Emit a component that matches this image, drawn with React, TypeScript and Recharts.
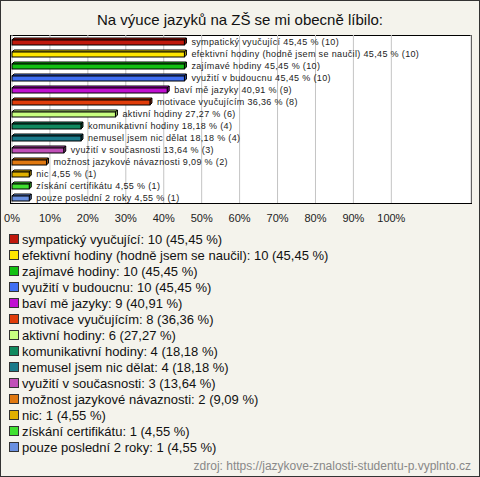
import { Bar, BarChart, CartesianGrid, Cell, LabelList, XAxis, YAxis } from "recharts";

const categories = [
  "sympatický vyučující",
  "efektivní hodiny (hodně jsem se naučil)",
  "zajímavé hodiny",
  "využití v budoucnu",
  "baví mě jazyky",
  "motivace vyučujícím",
  "aktivní hodiny",
  "komunikativní hodiny",
  "nemusel jsem nic dělat",
  "využití v současnosti",
  "možnost jazykové návaznosti",
  "nic",
  "získání certifikátu",
  "pouze poslední 2 roky",
];
const counts = [10, 10, 10, 10, 9, 8, 6, 4, 4, 3, 2, 1, 1, 1];
const percents = [45.45, 45.45, 45.45, 45.45, 40.91, 36.36, 27.27, 18.18, 18.18, 13.64, 9.09, 4.55, 4.55, 4.55];
const colors = [
  "#c0180c", "#ffe600", "#12c012", "#3f6ef2", "#c010d2", "#e03c0a", "#c8ff80",
  "#10895e", "#1a7a8a", "#c050b8", "#e07810", "#e0b000", "#40e030", "#6a90e0",
];
const xTicks = [0, 10, 20, 30, 40, 50, 60, 70, 80, 90, 100];

const fmt = (v: number) => v.toFixed(2).replace(".", ",");

const data = categories.map((name, i) => ({
  name,
  value: percents[i],
  label: `${name} ${fmt(percents[i])} % (${counts[i]})`,
}));

const FONT = "'Liberation Sans', Arial, sans-serif";

// darken a hex colour a bit for the bar's side face
function shade(hex: string) {
  const n = parseInt(hex.slice(1), 16);
  const r = Math.round(((n >> 16) & 255) * 0.7);
  const g = Math.round(((n >> 8) & 255) * 0.7);
  const b = Math.round((n & 255) * 0.7);
  return `rgb(${r},${g},${b})`;
}

const Bar3D = (props: any) => {
  const { x, y, width, height, fill } = props;
  const d = 2;
  const top = y + d;
  const h = height - d;
  return (
    <g stroke="#000" strokeWidth={1}>
      <polygon points={`${x},${top} ${x + d},${y} ${x + width + d},${y} ${x + width},${top}`} fill={fill} />
      <polygon
        points={`${x + width},${top} ${x + width + d},${y} ${x + width + d},${y + h} ${x + width},${y + height}`}
        fill={shade(fill)}
      />
      <rect x={x} y={top} width={width} height={h} fill={fill} />
    </g>
  );
};

const BarLabel = (props: any) => {
  const { x, y, width, height, value } = props;
  return (
    <text
      x={x + width + 7}
      y={y + height / 2}
      dominantBaseline="central"
      fontSize={9}
      letterSpacing={0.35}
      fill="#222"
      fontFamily={FONT}
    >
      {value}
    </text>
  );
};

export default function App() {
  return (
    <div
      style={{
        position: "fixed",
        left: 0,
        top: 0,
        width: 480,
        height: 477,
        boxSizing: "border-box",
        border: "1px solid #333",
        background: "#f4f3ec",
        fontFamily: FONT,
        overflow: "hidden",
      }}
    >
      <div style={{ position: "absolute", left: 0, top: 10, width: 478, textAlign: "center", fontSize: 15, color: "#111" }}>
        Na výuce jazyků na ZŠ se mi obecně líbilo:
      </div>
      {/* white plot box */}
      <div
        style={{
          position: "absolute",
          left: 9,
          top: 34,
          width: 462,
          height: 169,
          background: "#fff",
          border: "1px solid #000",
          boxSizing: "border-box",
        }}
      />
      <div style={{ position: "absolute", left: -1, top: -1 }}>
        <BarChart
          width={480}
          height={230}
          data={data}
          layout="vertical"
          margin={{ top: 35, right: 9, bottom: 7, left: 12 }}
          barCategoryGap={0}
        >
          <CartesianGrid horizontal={false} stroke="#c4c4c4" />
          <XAxis
            type="number"
            domain={[0, 121]}
            ticks={xTicks}
            tickFormatter={(v) => `${v}%`}
            axisLine={false}
            tickLine={false}
            height={20}
            tickMargin={5}
            tick={{ fontSize: 11, fill: "#222", fontFamily: FONT }}
            interval={0}
          />
          <YAxis type="category" dataKey="name" hide width={0} />
          <Bar dataKey="value" barSize={7} shape={Bar3D} isAnimationActive={false}>
            {data.map((d, i) => (
              <Cell key={d.name} fill={colors[i]} />
            ))}
            <LabelList dataKey="label" content={BarLabel} />
          </Bar>
        </BarChart>
      </div>
      <div style={{ position: "absolute", left: 8, top: 230, fontSize: 13, color: "#111" }}>
        {data.map((d, i) => (
          <div key={d.name} style={{ display: "flex", alignItems: "center", height: 16 }}>
            <span
              style={{
                display: "inline-block",
                width: 8,
                height: 8,
                background: colors[i],
                border: "1px solid #333",
                marginRight: 3,
              }}
            />
            {`${d.name}: ${counts[i]} (${fmt(percents[i])} %)`}
          </div>
        ))}
      </div>
      <div style={{ position: "absolute", right: 8, top: 458, fontSize: 12, color: "#888" }}>
        zdroj: https://jazykove-znalosti-studentu-p.vyplnto.cz
      </div>
    </div>
  );
}
